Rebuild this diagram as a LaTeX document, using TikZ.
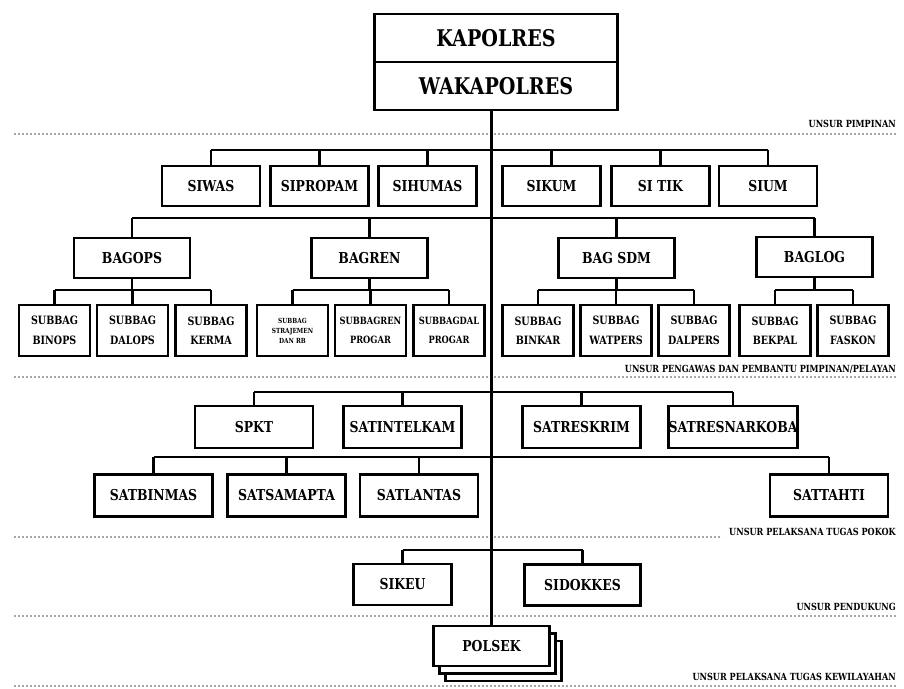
\documentclass[tikz,border=0pt]{standalone}
\usepackage{fontspec}
\setmainfont{DejaVu Serif}[FakeStretch=0.83]
\begin{document}
\begin{tikzpicture}[x=1pt,y=-1pt,
  orgbox/.style={draw=black, line width=2.4pt, fill=white, inner sep=0pt, align=center,
                 font=\bfseries\fontsize{15}{17}\selectfont},
  headbox/.style={orgbox, minimum width=243pt, minimum height=48pt,
                  font=\bfseries\fontsize{23}{25}\selectfont},
  sibox/.style={orgbox, minimum width=98pt, minimum height=40pt},
  bagbox/.style={orgbox, minimum width=116pt, minimum height=40pt},
  subbox/.style={orgbox, minimum width=71pt, minimum height=51pt,
                 font=\bfseries\fontsize{11.5}{19.5}\selectfont},
  satbox/.style={orgbox, minimum width=118pt, minimum height=42pt},
  wire/.style={line width=2.2pt, black},
  sepline/.style={line width=2.2pt, gray!70, dash pattern=on 1.6pt off 2.4pt},
  zone/.style={anchor=east, inner sep=0pt, font=\bfseries\fontsize{9.8}{10}\selectfont}
]
\useasboundingbox (0,0) rectangle (904,688);

% ---- leadership ----
\node[headbox] (kap) at (496,38) {KAPOLRES};
\node[headbox] (wak) at (496,86) {WAKAPOLRES};

% ---- section separators and their captions ----
\node[zone] (zpimp)  at (896,124) {UNSUR PIMPINAN};
\node[zone] (zpeng)  at (896,369) {UNSUR PENGAWAS DAN PEMBANTU PIMPINAN/PELAYAN};
\node[zone] (zpokok) at (896,532) {UNSUR PELAKSANA TUGAS POKOK};
\node[zone] (zpend)  at (896,607) {UNSUR PENDUKUNG};
\node[zone] (zwil)   at (896,677) {UNSUR PELAKSANA TUGAS KEWILAYAHAN};

\draw[sepline] (14,134) -- (896,134);
\draw[sepline] (14,377) -- (896,377);
\draw[sepline] (14,537) -- (722,537);
\draw[sepline] (14,616) -- (896,616);
\draw[sepline] (14,686) -- (896,686);

% ---- staff sections (SI) ----
\node[sibox] (siwas)    at (211,186)   {SIWAS};
\node[sibox] (sipropam) at (319.5,186) {SIPROPAM};
\node[sibox] (sihumas)  at (427.5,186) {SIHUMAS};
\node[sibox] (sikum)    at (551.5,186) {SIKUM};
\node[sibox] (sitik)    at (660.5,186) {SI TIK};
\node[sibox] (sium)     at (768,186)   {SIUM};

% ---- departments (BAG) ----
\node[bagbox] (bagops) at (132,258)   {BAGOPS};
\node[bagbox] (bagren) at (369.5,258) {BAGREN};
\node[bagbox] (bagsdm) at (616.5,258) {BAG SDM};
\node[bagbox] (baglog) at (814.5,257) {BAGLOG};

% ---- sub-departments ----
\node[subbox] (binops)  at (54.5,330.5)  {SUBBAG\\BINOPS};
\node[subbox] (dalops)  at (132.5,330.5) {SUBBAG\\DALOPS};
\node[subbox] (kerma)   at (211,330.5)   {SUBBAG\\KERMA};
\node[subbox, font=\bfseries\fontsize{7}{10}\selectfont]
              (strajem) at (292.5,330.5) {SUBBAG\\STRAJEMEN\\DAN RB};
\node[subbox, font=\bfseries\fontsize{10}{19.5}\selectfont]
              (renprog) at (370.5,330.5) {SUBBAGREN\\PROGAR};
\node[subbox, font=\bfseries\fontsize{10}{19.5}\selectfont]
              (dalprog) at (449,330.5)   {SUBBAGDAL\\PROGAR};
\node[subbox] (binkar)  at (538,330.5)   {SUBBAG\\BINKAR};
\node[subbox] (watpers) at (616,330.5)   {SUBBAG\\WATPERS};
\node[subbox] (dalpers) at (694,330.5)   {SUBBAG\\DALPERS};
\node[subbox] (bekpal)  at (775,330.5)   {SUBBAG\\BEKPAL};
\node[subbox] (faskon)  at (853,330.5)   {SUBBAG\\FASKON};

% ---- operational units (SAT) ----
\node[satbox] (spkt)     at (254,427)   {SPKT};
\node[satbox] (intelkam) at (402.5,427) {SATINTELKAM};
\node[satbox] (reskrim)  at (581.5,427) {SATRESKRIM};
\node[satbox, minimum width=126pt] (narkoba) at (733,427) {SATRESNARKOBA};
\node[satbox] (binmas)   at (153.5,495.5) {SATBINMAS};
\node[satbox] (samapta)  at (286.5,495.5) {SATSAMAPTA};
\node[satbox] (lantas)   at (419,495.5)   {SATLANTAS};
\node[satbox] (tahti)    at (829,495.5)   {SATTAHTI};

% ---- support ----
\node[orgbox, minimum width=98pt, minimum height=41pt]  (sikeu)    at (402.5,584.5) {SIKEU};
\node[orgbox, minimum width=116pt, minimum height=41pt] (sidokkes) at (582.5,585)   {SIDOKKES};

% ---- territorial units: stacked boxes ----
\node[orgbox, minimum width=116pt, minimum height=40pt] (pol3) at (503.5,661) {};
\node[orgbox, minimum width=116pt, minimum height=40pt] (pol2) at (497.5,653.5) {};
\node[orgbox, minimum width=116pt, minimum height=40pt] (pol)  at (491.5,646) {POLSEK};

% ---- main spine ----
\draw[wire] (wak.south -| pol.north) -- (pol.north);

% ---- buses ----
\foreach \n in {siwas,sipropam,sihumas,sikum,sitik,sium}
  \draw[wire] (\n.north) -- (\n.north |- 0,150);
\draw[wire] (siwas.north |- 0,150) -- (sium.north |- 0,150);

\foreach \n in {bagops,bagren,bagsdm,baglog}
  \draw[wire] (\n.north) -- (\n.north |- 0,218);
\draw[wire] (bagops.north |- 0,218) -- (baglog.north |- 0,218);

\foreach \p/\a/\b in {bagops/binops/kerma, bagren/strajem/dalprog,
                       bagsdm/binkar/dalpers, baglog/bekpal/faskon}{
  \draw[wire] (\p.south) -- (\p.south |- 0,290);
  \draw[wire] (\a.north |- 0,290) -- (\b.north |- 0,290);
}
\foreach \n in {binops,dalops,kerma,strajem,renprog,dalprog,binkar,watpers,dalpers,bekpal,faskon}
  \draw[wire] (\n.north) -- (\n.north |- 0,290);

\foreach \n in {spkt,intelkam,reskrim,narkoba}
  \draw[wire] (\n.north) -- (\n.north |- 0,392);
\draw[wire] (spkt.north |- 0,392) -- (narkoba.north |- 0,392);

\foreach \n in {binmas,samapta,lantas,tahti}
  \draw[wire] (\n.north) -- (\n.north |- 0,457);
\draw[wire] (binmas.north |- 0,457) -- (tahti.north |- 0,457);

\foreach \n in {sikeu,sidokkes}
  \draw[wire] (\n.north) -- (\n.north |- 0,550);
\draw[wire] (sikeu.north |- 0,550) -- (sidokkes.north |- 0,550);
\end{tikzpicture}
\end{document}
